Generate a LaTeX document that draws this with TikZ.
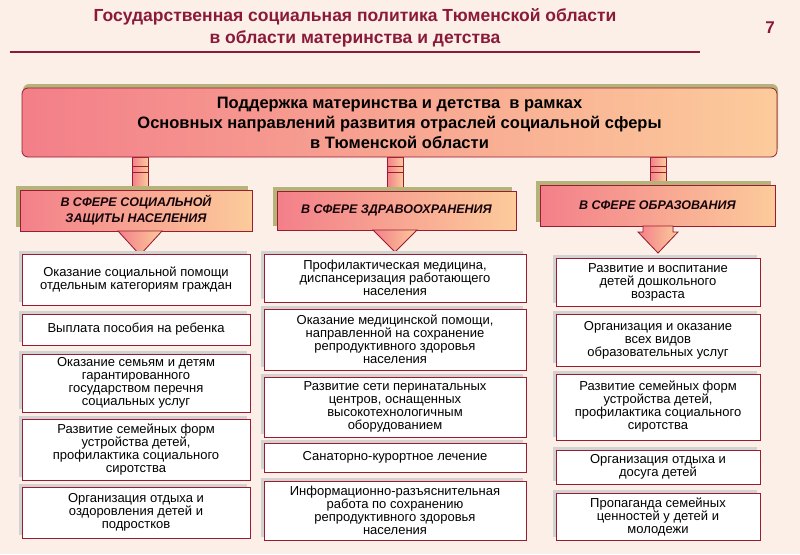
\documentclass[tikz,border=0pt]{standalone}
\usepackage{fontspec}
\setmainfont{Liberation Sans}
\usetikzlibrary{shadows,positioning}
\definecolor{bgcream}{HTML}{FBEFE8}
\definecolor{maroon}{HTML}{8B1A3A}
\definecolor{boxred}{HTML}{9B1B30}
\definecolor{pinkl}{HTML}{F37F89}
\definecolor{peach}{HTML}{FCCB9B}
\definecolor{olivesh}{HTML}{B5B27A}

\begin{document}
\begin{tikzpicture}[x=1pt,y=-1pt,
        every path/.style={thick},
        grad/.style={draw=boxred, left color=pinkl, right color=peach, line width=0.8pt},
        mainbox/.style={grad, rounded corners=6pt, minimum width=755pt, minimum height=69pt,
            align=center, font=\bfseries\fontsize{16.5}{20}\selectfont,
            drop shadow={shadow xshift=1pt, shadow yshift=4pt, fill=olivesh, opacity=1}},
        sphere/.style={grad, align=center, text=black!85!maroon, font=\bfseries\itshape\fontsize{12.5}{16}\selectfont,
            drop shadow={shadow xshift=-4pt, shadow yshift=4pt, fill=olivesh, opacity=1}},
        item/.style={draw=boxred, fill=white, line width=1pt, align=center, inner sep=1pt,
            font=\fontsize{13}{13}\selectfont,
            drop shadow={shadow xshift=-3pt, shadow yshift=3pt, fill=gray!35, opacity=1}},
        link/.style={grad, line width=0.6pt}
    ]
    \fill[bgcream] (0,0) rectangle (800,554);
    \useasboundingbox (0,0) rectangle (800,554);

    % Title
    \node[text=maroon, align=center, font=\bfseries\fontsize{17.5}{22}\selectfont] (title) at (355,28)
        {Государственная социальная политика Тюменской области\\в области материнства и детства};
    \node[text=maroon, font=\bfseries\fontsize{17}{20}\selectfont] (page) at (770,28) {7};
    \draw[maroon, line width=2.2pt] (10,52) -- (700,52);

    % Links
    \foreach \xx/\tt/\bb in {140/157/190, 395/157/191, 658/157/185}{
        \filldraw[link] (\xx-8,\tt) rectangle (\xx+8,\tt+9);
        \filldraw[link] (\xx-8,\tt+9) rectangle (\xx+8,\tt+15);
        \filldraw[link] (\xx-8,\tt+15) rectangle (\xx+8,\bb);
    }

    % Main box
    \node[mainbox] (main) at (399.5,122.5)
        {Поддержка материнства и детства \ в рамках\\Основных направлений развития отраслей социальной сферы\\в Тюменской области};

    % Spheres
    \node[sphere, minimum width=232pt, minimum height=41pt] (soc) at (136,210.5)
        {В СФЕРЕ СОЦИАЛЬНОЙ\\ЗАЩИТЫ НАСЕЛЕНИЯ};
    \node[sphere, minimum width=239pt, minimum height=39pt] (med) at (396.5,210.5)
        {В СФЕРЕ ЗДРАВООХРАНЕНИЯ};
    \node[sphere, minimum width=235pt, minimum height=41pt] (edu) at (657.5,205.5)
        {В СФЕРЕ ОБРАЗОВАНИЯ};

    \filldraw[grad] (118,231) -- (162,231) -- (140,255) -- cycle;
    \filldraw[grad] (373,230) -- (417,230) -- (395,252) -- cycle;
    \filldraw[grad] (643,226) -- (673,226) -- (673,232) -- (678,232) -- (658,253) -- (638,232) -- (643,232) -- cycle;

    % Column 1
    \node[item, minimum width=228pt, minimum height=51pt] (s1) at (136,279.5)
        {Оказание социальной помощи\\отдельным категориям граждан};
    \node[item, minimum width=228pt, minimum height=31pt] (s2) at (136,329.5)
        {Выплата пособия на ребенка};
    \node[item, minimum width=228pt, minimum height=58pt] (s3) at (136,383)
        {Оказание семьям и детям\\гарантированного\\государством перечня\\социальных услуг};
    \node[item, minimum width=228pt, minimum height=61pt] (s4) at (136,449.5)
        {Развитие семейных форм\\устройства детей,\\профилактика социального\\сиротства};
    \node[item, minimum width=228pt, minimum height=51pt] (s5) at (136,512.5)
        {Организация отдыха и\\оздоровления детей и\\подростков};

    % Column 2
    \node[item, minimum width=262pt, minimum height=48pt] (m1) at (395,278)
        {Профилактическая медицина,\\диспансеризация работающего\\населения};
    \node[item, minimum width=262pt, minimum height=61pt] (m2) at (395,339.5)
        {Оказание медицинской помощи,\\направленной на сохранение\\репродуктивного здоровья\\населения};
    \node[item, minimum width=262pt, minimum height=60pt] (m3) at (395,407)
        {Развитие сети перинатальных\\центров, оснащенных\\высокотехнологичным\\оборудованием};
    \node[item, minimum width=262pt, minimum height=29pt] (m4) at (395,457.5)
        {Санаторно-курортное лечение};
    \node[item, minimum width=262pt, minimum height=59pt] (m5) at (395,510.5)
        {Информационно-разъяснительная\\работа по сохранению\\репродуктивного здоровья\\населения};

    % Column 3
    \node[item, minimum width=204pt, minimum height=48pt] (e1) at (658,282)
        {Развитие и воспитание\\детей дошкольного\\возраста};
    \node[item, minimum width=204pt, minimum height=52pt] (e2) at (658,340)
        {Организация и оказание\\всех видов\\образовательных услуг};
    \node[item, minimum width=204pt, minimum height=66pt] (e3) at (658,407)
        {Развитие семейных форм\\устройства детей,\\профилактика социального\\сиротства};
    \node[item, minimum width=204pt, minimum height=34pt] (e4) at (658,467)
        {Организация отдыха и\\досуга детей};
    \node[item, minimum width=204pt, minimum height=47pt] (e5) at (658,516.5)
        {Пропаганда семейных\\ценностей у детей и\\молодежи};
\end{tikzpicture}
\end{document}
